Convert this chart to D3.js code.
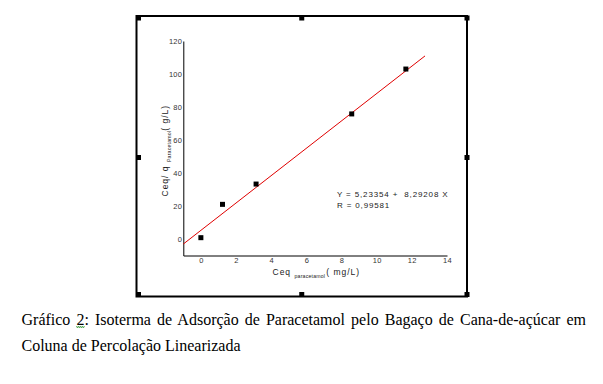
<!DOCTYPE html>
<html lang="pt">
<head>
<meta charset="UTF-8">
<title>Isoterma linearizada</title>
<style>
  body { margin: 0; background: #fff; }
  svg { display: block; }
  .tick text { font: 7.5px Arial, "Liberation Sans", sans-serif; fill: #333; letter-spacing: 0.3px; }
  .lbl { font-family: Arial, "Liberation Sans", sans-serif; fill: #222; }
  .cap { font-family: "Times New Roman", "Liberation Serif", serif; font-size: 16px; fill: #000; }
</style>
</head>
<body>
<svg width="603" height="384"></svg>
<script src="https://cdnjs.cloudflare.com/ajax/libs/d3/7.8.5/d3.min.js"></script>
<script>
// data
var ceq = [0, 1.23, 3.14, 8.58, 11.66];
var ratio = [0.8, 21.0, 33.3, 75.8, 103.0];
var fitA = 5.23354, fitB = 8.29208, fitR = 0.99581;
var fitRange = [-1, 12.75];
var xTicks = [0, 2, 4, 6, 8, 10, 12, 14];
var yTicks = [0, 20, 40, 60, 80, 100, 120];
var caption = ["Gráfico 2: Isoterma de Adsorção de Paracetamol pelo Bagaço de Cana-de-açúcar em",
               "Coluna de Percolação Linearizada"];

var svg = d3.select("svg");
svg.append("rect").attr("width", 603).attr("height", 384).attr("fill", "#fff");

// outer frame with handles
var fx0 = 136.5, fx1 = 467, fy0 = 16, fy1 = 296.5;
svg.append("rect").attr("x", fx0).attr("y", fy0).attr("width", fx1 - fx0).attr("height", fy1 - fy0)
  .attr("fill", "none").attr("stroke", "#000").attr("stroke-width", 2);
var hx = [fx0 + 2, (fx0 + fx1) / 2, fx1], hy = [fy0 + 2, 157.5, fy1 - 2];
hx.forEach(function(x, i) {
  hy.forEach(function(y, j) {
    if (i === 1 && j === 1) return;
    svg.append("rect").attr("x", x - 2.5).attr("y", y - 2.5).attr("width", 5).attr("height", 5).attr("fill", "#000");
  });
});

var x = d3.scaleLinear().domain([-1, 14]).range([183.3, 447]);
var y = d3.scaleLinear().domain([-10, 120]).range([255.5, 41]);

svg.append("g").attr("transform", "translate(0,255.5)")
  .call(d3.axisBottom(x).tickValues(xTicks).tickSize(0).tickSizeOuter(0).tickPadding(2))
  .call(function(g) { g.select(".domain").attr("stroke", "#000").attr("stroke-width", 1); });
svg.append("g").attr("transform", "translate(183.3,0)")
  .call(d3.axisLeft(y).tickValues(yTicks).tickSize(0).tickSizeOuter(0).tickPadding(1))
  .call(function(g) { g.select(".domain").attr("stroke", "#000").attr("stroke-width", 1); });

// fit line
svg.append("line")
  .attr("x1", x(fitRange[0])).attr("y1", y(fitA + fitB * fitRange[0]))
  .attr("x2", x(fitRange[1])).attr("y2", y(fitA + fitB * fitRange[1]))
  .attr("stroke", "#e00000").attr("stroke-width", 1);

// points
svg.selectAll("rect.pt").data(ceq).enter().append("rect").attr("class", "pt")
  .attr("x", function(d) { return x(d) - 2.5; })
  .attr("y", function(d, i) { return y(ratio[i]) - 2.5; })
  .attr("width", 5).attr("height", 5).attr("fill", "#000");

// equation
var eq = svg.append("text").attr("class", "lbl").attr("xml:space", "preserve")
  .style("font-size", "8px").style("letter-spacing", "0.85px");
eq.append("tspan").attr("x", 337).attr("y", 197)
  .text("Y = " + d3.format(".5f")(fitA).replace(".", ",") + " +  " + d3.format(".5f")(fitB).replace(".", ",") + " X");
eq.append("tspan").attr("x", 337).attr("y", 207.5)
  .text("R = " + d3.format(".5f")(fitR).replace(".", ","));

// x title
var xt = svg.append("text").attr("class", "lbl").attr("x", 272.5).attr("y", 274.5)
  .style("font-size", "8.5px").style("letter-spacing", "1px");
xt.append("tspan").text("Ceq ");
xt.append("tspan").attr("dy", 3).style("font-size", "5.2px").style("letter-spacing", "0.2px").text("paracetamol");
xt.append("tspan").attr("dy", -3).attr("dx", 1).text("( mg/L)");

// y title
var yt = svg.append("text").attr("class", "lbl").attr("transform", "translate(168,196.5) rotate(-90)")
  .style("font-size", "8.5px").style("letter-spacing", "1px");
yt.append("tspan").text("Ceq/ q ");
yt.append("tspan").attr("dy", 3).style("font-size", "5.2px").style("letter-spacing", "0.2px").text("Paracetamol");
yt.append("tspan").attr("dy", -3).text("( g/L)");

// caption, first line justified
var capX0 = 21.5, capX1 = 586;
var c1 = svg.append("text").attr("class", "cap").attr("x", capX0).attr("y", 325).text(caption[0]);
var nSp = caption[0].split(" ").length - 1;
var w = c1.node().getComputedTextLength();
c1.attr("word-spacing", (capX1 - capX0 - w) / nSp);
svg.append("text").attr("class", "cap").attr("x", capX0).attr("y", 351).text(caption[1]);

// spell-check squiggle under the "2"
var k = caption[0].indexOf("2");
var p0 = c1.node().getStartPositionOfChar(k).x, p1 = c1.node().getEndPositionOfChar(k).x;
var sq = d3.path();
sq.moveTo(p0, 326);
for (var xx = p0; xx < p1 - 0.5; xx += 2) { sq.lineTo(xx + 1, 328); sq.lineTo(xx + 2, 326); }
svg.append("path").attr("d", sq.toString()).attr("fill", "none").attr("stroke", "#3c9a3c").attr("stroke-width", 0.8);
</script>
</body>
</html>
